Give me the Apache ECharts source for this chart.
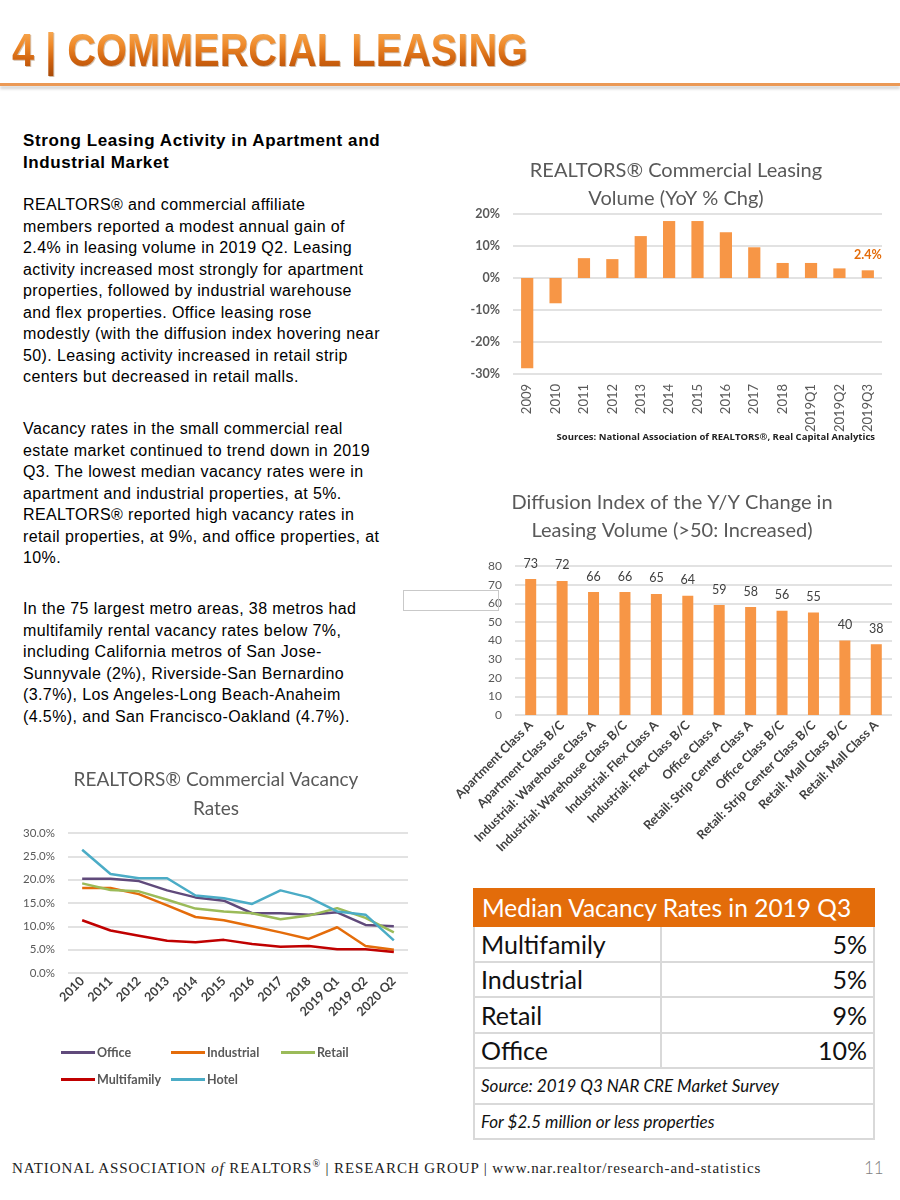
<!DOCTYPE html>
<html>
<head>
<meta charset="utf-8">
<script src="https://cdn.jsdelivr.net/npm/echarts@6/dist/echarts.min.js"></script>
<style>
  html,body{margin:0;padding:0;background:#fff;width:900px;height:1200px;overflow:hidden;position:relative;}
  .abs{position:absolute;}
  #hdr{left:12px;top:24px;font-family:"Liberation Sans",Arial,sans-serif;font-weight:bold;font-size:46px;line-height:52px;white-space:nowrap;transform-origin:0 0;
       background:linear-gradient(180deg,#fbb866 0%,#ef8a2a 40%,#cf620e 70%,#a94a08 100%);-webkit-background-clip:text;background-clip:text;color:transparent;
       filter:drop-shadow(1px 1px 0 rgba(120,60,0,0.35));}
  #rule{left:0;top:83px;width:900px;height:3px;background:#eb9955;box-shadow:0 3px 3px rgba(0,0,0,0.18);}
  .txt{left:23px;font-family:"Liberation Sans",Arial,sans-serif;font-size:16px;line-height:21.5px;color:#000;white-space:nowrap;letter-spacing:0.4px;}
  .h{font-weight:bold;font-size:17px;letter-spacing:0.6px;}
  #tbl{left:473px;top:888px;width:402px;border-collapse:collapse;font-family:Lato,"Open Sans",sans-serif;}
  #tbl td{border:2px solid #d9d9d9;padding:0 6px;color:#111;}
  #tbl .head td{background:#e36c0a;color:#fff;font-size:24.5px;height:35px;border-color:#e36c0a;padding-left:7px;}
  #tbl .row td{font-size:25px;height:33.5px;}
  #tbl .row td.v{text-align:right;}
  #tbl .it td{font-size:17px;font-style:italic;height:33.5px;}
  #foot{left:12px;top:1158px;font-family:"Liberation Serif","Times New Roman",serif;font-size:15px;letter-spacing:0.9px;color:#222;white-space:nowrap;}
  #pg{left:864px;top:1157px;font-family:Lato,sans-serif;font-weight:300;font-size:17px;color:#7f7f7f;}
  #box{left:403px;top:590px;width:94px;height:19px;border:1.5px solid #c9c9c9;}
</style>
</head>
<body>
<div id="hdr" class="abs">4 | COMMERCIAL LEASING</div>
<div id="rule" class="abs"></div>

<div class="abs txt h" style="top:130px">Strong Leasing Activity in Apartment and<br>Industrial Market</div>
<div class="abs txt" style="top:194px">REALTORS® and commercial affiliate<br>members reported a modest annual gain of<br>2.4% in leasing volume in 2019 Q2. Leasing<br>activity increased most strongly for apartment<br>properties, followed by industrial warehouse<br>and flex properties. Office leasing rose<br>modestly (with the diffusion index hovering near<br>50). Leasing activity increased in retail strip<br>centers but decreased in retail malls.</div>
<div class="abs txt" style="top:418px">Vacancy rates in the small commercial real<br>estate market continued to trend down in 2019<br>Q3. The lowest median vacancy rates were in<br>apartment and industrial properties, at 5%.<br>REALTORS® reported high vacancy rates in<br>retail properties, at 9%, and office properties, at<br>10%.</div>
<div class="abs txt" style="top:598px">In the 75 largest metro areas, 38 metros had<br>multifamily rental vacancy rates below 7%,<br>including California metros of San Jose-<br>Sunnyvale (2%), Riverside-San Bernardino<br>(3.7%), Los Angeles-Long Beach-Anaheim<br>(4.5%), and San Francisco-Oakland (4.7%).</div>

<div id="c1" class="abs" style="left:460px;top:150px;width:440px;height:300px"></div>
<div id="c2" class="abs" style="left:420px;top:480px;width:480px;height:380px"></div>
<div id="c3" class="abs" style="left:0px;top:760px;width:440px;height:340px"></div>
<div id="box" class="abs"></div>

<table id="tbl" class="abs"></table>

<div id="foot" class="abs">NATIONAL ASSOCIATION <i>of</i> REALTORS<sup style="font-size:10px">®</sup> | RESEARCH GROUP | www.nar.realtor/research-and-statistics</div>
<div id="pg" class="abs">11</div>

<script>
// ---------- data ----------
const volumeCategories = ['2009','2010','2011','2012','2013','2014','2015','2016','2017','2018','2019Q1','2019Q2','2019Q3'];
const volumeValues = [-28.2, -7.9, 6.2, 5.9, 13.1, 17.8, 17.8, 14.3, 9.6, 4.7, 4.7, 3.0, 2.4];

const diffusionCategories = ['Apartment Class A','Apartment Class B/C','Industrial: Warehouse Class A','Industrial: Warehouse Class B/C','Industrial: Flex Class A','Industrial: Flex Class B/C','Office Class A','Retail: Strip Center Class A','Office Class B/C','Retail: Strip Center Class B/C','Retail: Mall Class B/C','Retail: Mall Class A'];
const diffusionValues = [73, 72, 66, 66, 65, 64, 59, 58, 56, 55, 40, 38];

const vacancyCategories = ['2010','2011','2012','2013','2014','2015','2016','2017','2018','2019 Q1','2019 Q2','2020 Q2'];
const officeVacancy      = [20.2, 20.2, 19.7, 17.7, 16.2, 15.5, 12.8, 12.8, 12.5, 13.0, 10.3, 10.0];
const industrialVacancy  = [18.2, 18.2, 16.9, 14.5, 12.0, 11.3, 10.0, 8.7, 7.3, 9.8, 5.8, 5.0];
const retailVacancy      = [19.2, 17.8, 17.5, 15.7, 13.8, 13.2, 12.8, 11.5, 12.3, 13.9, 11.8, 8.7];
const multifamilyVacancy = [11.3, 9.1, 8.0, 6.9, 6.6, 7.1, 6.2, 5.6, 5.8, 5.1, 5.1, 4.5];
const hotelVacancy       = [26.4, 21.2, 20.3, 20.3, 16.6, 16.0, 14.8, 17.7, 16.2, 13.2, 12.5, 7.0];

const tableTitle = 'Median Vacancy Rates in 2019 Q3';
const tableLabels = ['Multifamily','Industrial','Retail','Office'];
const tableValues = ['5%','5%','9%','10%'];
const tableNotes = ['Source: 2019 Q3 NAR CRE Market Survey','For $2.5 million or less properties'];

// ---------- header scale ----------
const hdr = document.getElementById('hdr');
const w = hdr.getBoundingClientRect().width;
hdr.style.transform = 'scaleX(' + (516 / w) + ')';

// ---------- table ----------
const tbl = document.getElementById('tbl');
let html = '<tr class="head"><td colspan="2">' + tableTitle + '</td></tr>';
tableLabels.forEach((l, i) => { html += '<tr class="row"><td style="width:173px">' + l + '</td><td class="v">' + tableValues[i] + '</td></tr>'; });
tableNotes.forEach(n => { html += '<tr class="it"><td colspan="2">' + n + '</td></tr>'; });
tbl.innerHTML = html;

const FONT = 'Lato';
const gridLine = {show:true, lineStyle:{color:'#d9d9d9', width:1.5}};
function titleLines(lines, cx, ys, size) {
  return lines.map((t, i) => ({type:'text', x:cx, y:ys[i], style:{text:t, fill:'#595959', font:'normal ' + size + 'px ' + FONT, textAlign:'center', textVerticalAlign:'middle'}}));
}

// ---------- chart 1 ----------
const c1 = echarts.init(document.getElementById('c1'));
c1.setOption({
  animation:false,
  graphic: titleLines(['REALTORS® Commercial Leasing','Volume (YoY % Chg)'], 216, [21, 49], 20).concat([
    {type:'text', right:25, y:287, style:{text:'Sources: National Association of REALTORS®, Real Capital Analytics', fill:'#222', font:'bold 9.5px "Open Sans"', textAlign:'right', textVerticalAlign:'middle'}}
  ]),
  grid:{left:53, right:18, top:64, height:160, containLabel:false, outerBoundsMode:'none'},
  xAxis:{type:'category', data:volumeCategories, axisTick:{show:false}, axisLine:{show:false},
    axisLabel:{rotate:90, margin:10, color:'#595959', fontFamily:FONT, fontSize:13}},
  yAxis:{type:'value', min:-30, max:20, interval:10, splitLine:gridLine, axisLine:{show:false},
    axisLabel:{formatter:v => v + '%', color:'#595959', fontFamily:FONT, fontSize:12.5, fontWeight:'bold', margin:13}},
  series:[{type:'bar', data:volumeValues, barWidth:'43%', itemStyle:{color:'#f79646'},
    label:{show:true, position:'top', distance:9, color:'#e46c0a', fontFamily:FONT, fontSize:12.5, fontWeight:'bold',
      formatter:p => p.dataIndex === volumeValues.length - 1 ? p.value + '%' : ''}}]
});

// ---------- chart 2 ----------
const c2 = echarts.init(document.getElementById('c2'));
c2.setOption({
  animation:false,
  graphic: titleLines(['Diffusion Index of the Y/Y Change in','Leasing Volume (>50: Increased)'], 252, [23, 51], 20),
  grid:{left:95, right:8, top:86, height:149, containLabel:false, outerBoundsMode:'none'},
  xAxis:{type:'category', data:diffusionCategories, axisTick:{show:false}, axisLine:{show:false},
    axisLabel:{rotate:45, margin:8, color:'#404040', fontFamily:FONT, fontSize:12.5, fontWeight:'bold', interval:0}},
  yAxis:{type:'value', min:0, max:80, interval:10, splitLine:gridLine, axisLine:{show:false},
    axisLabel:{color:'#595959', fontFamily:FONT, fontSize:12, margin:13}},
  series:[{type:'bar', data:diffusionValues, barWidth:'35%', itemStyle:{color:'#f79646'},
    label:{show:true, position:'top', distance:9, color:'#404040', fontFamily:FONT, fontSize:12.5}}]
});

// ---------- chart 3 ----------
const c3 = echarts.init(document.getElementById('c3'));
const lineSeries = [
  ['Office', officeVacancy, '#604a7b'],
  ['Industrial', industrialVacancy, '#e46c0a'],
  ['Retail', retailVacancy, '#9bbb59'],
  ['Multifamily', multifamilyVacancy, '#c00000'],
  ['Hotel', hotelVacancy, '#4bacc6']
];
const legendPos = [[56, 281], [166, 281], [276, 281], [56, 308], [166, 308]];
c3.setOption({
  animation:false,
  graphic: titleLines(['REALTORS® Commercial Vacancy','Rates'], 216, [20, 49], 19),
  legend: lineSeries.map((s, i) => ({data:[s[0]], left:legendPos[i][0], top:legendPos[i][1], icon:'rect', itemWidth:34, itemHeight:3, itemGap:0,
    textStyle:{color:'#595959', fontFamily:FONT, fontSize:12.5, fontWeight:'bold', padding:[0,0,0,-3]}})),
  grid:{left:68, right:32, top:73, height:140, containLabel:false, outerBoundsMode:'none'},
  xAxis:{type:'category', data:vacancyCategories, axisTick:{show:false}, axisLine:{show:false},
    axisLabel:{rotate:45, margin:6, color:'#404040', fontFamily:FONT, fontSize:12.5, fontWeight:'bold', interval:0}},
  yAxis:{type:'value', min:0, max:30, interval:5, splitLine:gridLine, axisLine:{show:false},
    axisLabel:{formatter:v => v.toFixed(1) + '%', color:'#595959', fontFamily:FONT, fontSize:11.5, margin:13}},
  series: lineSeries.map(s => ({name:s[0], type:'line', data:s[1], showSymbol:false, symbol:'none', lineStyle:{color:s[2], width:2.5}, itemStyle:{color:s[2]}}))
});
</script>
</body>
</html>
